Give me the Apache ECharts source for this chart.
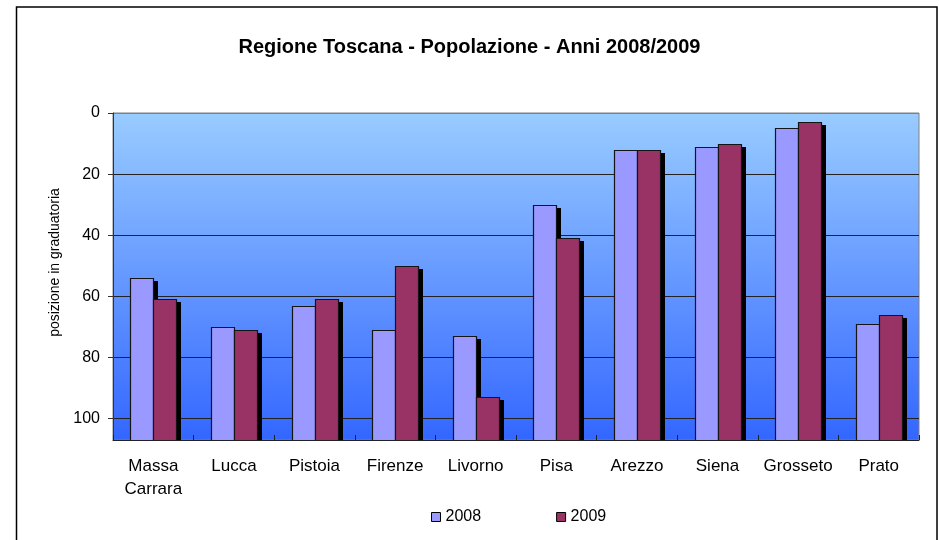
<!DOCTYPE html>
<html>
<head>
<meta charset="utf-8">
<script src="https://cdn.jsdelivr.net/npm/echarts@6/dist/echarts.min.js"></script>
<style>
html,body{margin:0;padding:0;background:#fff;}
#chart{width:939px;height:540px;}
</style>
</head>
<body>
<div id="chart"></div>
<script>
const categories = ['Massa\nCarrara', 'Lucca', 'Pistoia', 'Firenze', 'Livorno', 'Pisa', 'Arezzo', 'Siena', 'Grosseto', 'Prato'];
const seriesNames = ['2008', '2009'];
const rank2008 = [54, 70, 63, 71, 73, 30, 12, 11, 5, 69];
const rank2009 = [61, 71, 61, 50, 93, 41, 12, 10, 3, 66];
const yTicks = [0, 20, 40, 60, 80, 100];
const axisMax = 107;

const FONT = 'Liberation Sans, Arial, sans-serif';
const chart = echarts.init(document.getElementById('chart'), null, {renderer: 'canvas'});

const BAR_W = 23;
function makeRender(color, offset) {
  return function (params, api) {
    const i = api.value(0);
    const v = api.value(1);
    const top = api.coord([i, v]);
    const bottom = api.coord([i, axisMax]);
    const x = Math.round(top[0] + offset);
    const y0 = Math.round(top[1]);
    const y1 = Math.round(bottom[1]);
    return {
      type: 'group',
      children: [
        {type: 'rect', shape: {x: x + 5, y: y0 + 3, width: BAR_W, height: Math.max(0, y1 - y0 - 3)},
         style: {fill: '#000'}},
        {type: 'rect', shape: {x: x + 0.5, y: y0 + 0.5, width: BAR_W, height: y1 - y0},
         style: {fill: color, stroke: '#151515', lineWidth: 1.2}}
      ]
    };
  };
}

const option = {
  backgroundColor: '#fff',
  animation: false,
  title: {
    text: 'Regione Toscana - Popolazione - Anni 2008/2009',
    left: 'center',
    top: 32,
    textStyle: {fontFamily: FONT, fontSize: 20, fontWeight: 'bold', color: '#000'}
  },
  legend: {
    data: seriesNames,
    left: 426,
    top: 504,
    itemWidth: 9,
    itemHeight: 9,
    itemGap: 75,
    icon: 'rect',
    textStyle: {fontFamily: FONT, fontSize: 16, color: '#000'},
    itemStyle: {borderColor: '#000', borderWidth: 1}
  },
  grid: {
    left: 113, right: 20, top: 113, bottom: 100,
    show: true,
    outerBoundsMode: 'none',
    borderColor: '#808080',
    borderWidth: 1,
    backgroundColor: new echarts.graphic.LinearGradient(0, 0, 0, 1, [
      {offset: 0, color: '#99ccff'},
      {offset: 1, color: '#3366ff'}
    ])
  },
  xAxis: {
    type: 'category',
    data: categories,
    position: 'bottom',
    axisLine: {onZero: false, lineStyle: {color: '#222', width: 1}},
    axisTick: {show: true, inside: true, length: 5, interval: 0, lineStyle: {color: '#222'}},
    axisLabel: {fontFamily: FONT, fontSize: 17, color: '#000', margin: 15, lineHeight: 23, interval: 0},
    splitLine: {show: false}
  },
  yAxis: {
    type: 'value',
    inverse: true,
    min: 0,
    max: axisMax,
    interval: 20,
    name: 'posizione in graduatoria',
    nameLocation: 'middle',
    nameGap: 50,
    nameTextStyle: {fontFamily: FONT, fontSize: 14, color: '#000', padding: [0, 0, 0, 28]},
    axisLine: {show: true, lineStyle: {color: '#333', width: 1}},
    axisTick: {show: true, length: 5, customValues: yTicks, lineStyle: {color: '#333'}},
    axisLabel: {fontFamily: FONT, fontSize: 16, color: '#000', margin: 13, customValues: yTicks},
    splitLine: {show: true, lineStyle: {color: ['#808080', '#222', '#222', '#222', '#222', '#222', '#222'], width: 1}}
  },
  series: [
    {name: '2008', type: 'custom', data: rank2008.map((v, i) => [i, v]), encode: {x: 0, y: 1},
     renderItem: makeRender('#9999ff', -BAR_W), itemStyle: {color: '#9999ff'}, clip: true, z: 3},
    {name: '2009', type: 'custom', data: rank2009.map((v, i) => [i, v]), encode: {x: 0, y: 1},
     renderItem: makeRender('#993366', 0), itemStyle: {color: '#993366'}, clip: true, z: 3}
  ],
  graphic: [
    {type: 'rect', z: 100, silent: true,
     shape: {x: 16.5, y: 7, width: 920.5, height: 540},
     style: {fill: null, stroke: '#000', lineWidth: 1.5}}
  ]
};
chart.setOption(option);
</script>
</body>
</html>
